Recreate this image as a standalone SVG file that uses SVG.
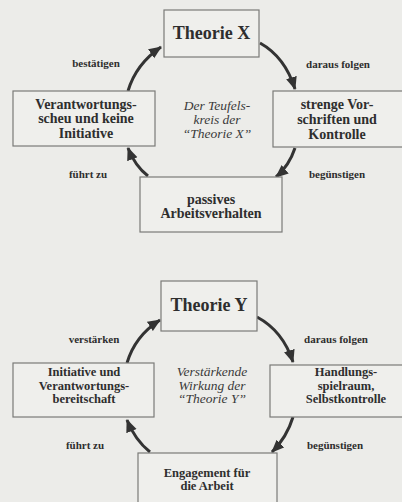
<svg xmlns="http://www.w3.org/2000/svg" width="402" height="502" viewBox="0 0 402 502">
<defs>
<style>
.bg{fill:#ecece9}
.box{fill:#efefec;stroke:#7a7a78;stroke-width:1.2}
.t{font-weight:bold;fill:#2e2e2e;text-anchor:middle}
.big{font-size:18px}
.bx{font-size:14px}
.bs{font-size:12.5px}
.lb{font-size:11px}
.it{font-style:italic;font-size:13.5px;fill:#3a3a3a;text-anchor:middle}
.arr{fill:none;stroke:#333;stroke-width:3;marker-end:url(#ah)}
</style>
<marker id="ah" markerUnits="userSpaceOnUse" markerWidth="14" markerHeight="12" refX="12" refY="5.5" orient="auto">
<path d="M0,0 L13,5.5 L0,11 z" fill="#333"/>
</marker>
</defs>
<rect class="bg" x="0" y="0" width="402" height="502"/>

<g id="connectors">
<path class="arr" d="M128,91 Q136,64 161,47"/>
<path class="arr" d="M260,43 Q285,57 295,89"/>
<path class="arr" d="M295,148 Q289,166 276,177"/>
<path class="arr" d="M148,176 Q135,166 128,148"/>
<path class="arr" d="M127,363 Q135,336 160,320"/>
<path class="arr" d="M257,317 Q283,331 293,362"/>
<path class="arr" d="M293,417 Q287,437 272,452"/>
<path class="arr" d="M150,452 Q135,440 127,420"/>
</g>

<g font-family="Liberation Serif, DejaVu Serif, serif">
<g id="labels">
<text class="t lb" x="96" y="67">bestätigen</text>
<text class="t lb" x="338" y="68">daraus folgen</text>
<text class="t lb" x="88" y="178">führt zu</text>
<text class="t lb" x="337" y="178">begünstigen</text>
<text class="t lb" x="94" y="343">verstärken</text>
<text class="t lb" x="336" y="343">daraus folgen</text>
<text class="t lb" x="85" y="449">führt zu</text>
<text class="t lb" x="335" y="449">begünstigen</text>
</g>

<g id="theorieX">
<rect class="box" x="164" y="10" width="95" height="47"/>
<text class="t big" x="211.5" y="39">Theorie X</text>
</g>
<g id="strengeVorschriften">
<rect class="box" x="273" y="91" width="130" height="56"/>
<text class="t bx" x="337" y="109">strenge Vor-</text>
<text class="t bx" x="337" y="124">schriften und</text>
<text class="t bx" x="337" y="139">Kontrolle</text>
</g>
<g id="passivesArbeitsverhalten">
<rect class="box" x="140" y="177" width="142" height="55"/>
<text class="t bx" x="211" y="204">passives</text>
<text class="t bx" x="211" y="218">Arbeitsverhalten</text>
</g>
<g id="verantwortungsscheu">
<rect class="box" x="13" y="91" width="142" height="55"/>
<text class="t bx" x="86" y="109">Verantwortungs-</text>
<text class="t bx" x="86" y="123">scheu und keine</text>
<text class="t bx" x="86" y="138">Initiative</text>
</g>
<g id="teufelskreis">
<text class="it" x="217" y="110">Der Teufels-</text>
<text class="it" x="217" y="124">kreis der</text>
<text class="it" x="217" y="138">“Theorie X”</text>
</g>

<g id="theorieY">
<rect class="box" x="161" y="281" width="96" height="50"/>
<text class="t big" x="209" y="311">Theorie Y</text>
</g>
<g id="handlungsspielraum">
<rect class="box" x="270" y="365" width="133" height="52"/>
<text class="t bs" x="346" y="376">Handlungs-</text>
<text class="t bs" x="346" y="389.5">spielraum,</text>
<text class="t bs" x="346" y="403">Selbstkontrolle</text>
</g>
<g id="engagement">
<rect class="box" x="138" y="453" width="139" height="60"/>
<text class="t bs" x="207" y="476.5">Engagement für</text>
<text class="t bs" x="207" y="490">die Arbeit</text>
</g>
<g id="initiative">
<rect class="box" x="13" y="363" width="141" height="54"/>
<text class="t bs" x="84" y="376">Initiative und</text>
<text class="t bs" x="84" y="389.5">Verantwortungs-</text>
<text class="t bs" x="84" y="403">bereitschaft</text>
</g>
<g id="verstaerkend">
<text class="it" x="212" y="376">Verstärkende</text>
<text class="it" x="212" y="389.5">Wirkung der</text>
<text class="it" x="212" y="403">“Theorie Y”</text>
</g>
</g>
</svg>
